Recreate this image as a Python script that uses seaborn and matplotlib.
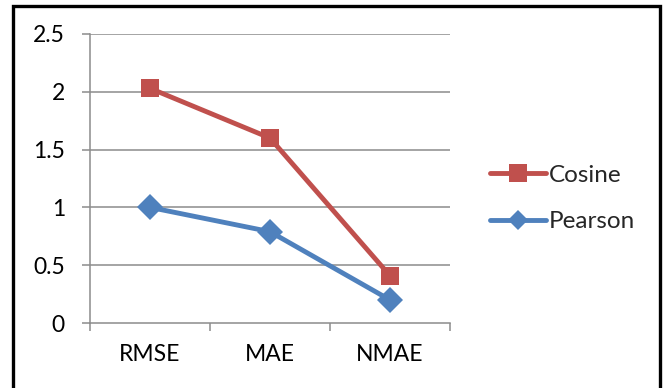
import matplotlib
matplotlib.use("Agg")
import matplotlib.pyplot as plt
from matplotlib.patches import Rectangle
import seaborn as sns
import pandas as pd

# Error metrics for the two similarity measures
metrics = ["RMSE", "MAE", "NMAE"]
cosine = [2.03, 1.6, 0.41]
pearson = [1.0, 0.79, 0.2]
series_names = ["Cosine", "Pearson"]
y_ticks = [0, 0.5, 1, 1.5, 2, 2.5]
y_tick_labels = ["0", "0.5", "1", "1.5", "2", "2.5"]

df = pd.DataFrame({
    "metric": metrics * 2,
    "value": cosine + pearson,
    "measure": [series_names[0]] * 3 + [series_names[1]] * 3,
})

sns.set_theme(style="white")
plt.rcParams["font.family"] = ["Lato", "DejaVu Sans"]

red = "#C0504D"
blue = "#4F81BD"
grid_c = "#8C8C8C"

fig = plt.figure(figsize=(6.69, 3.88), dpi=100)
ax = fig.add_axes([0.1345, 0.1675, 0.538, 0.745])

sns.lineplot(
    data=df, x="metric", y="value", hue="measure", style="measure",
    palette={"Cosine": red, "Pearson": blue},
    markers={"Cosine": "s", "Pearson": "D"}, dashes=False,
    linewidth=3.5, markersize=13, markeredgewidth=0,
    sort=False, ax=ax, legend=False,
)

ax.set_xlim(-0.5, 2.5)
ax.set_ylim(0, 2.5)
ax.set_xlabel("")
ax.set_ylabel("")

ax.set_yticks(y_ticks)
ax.set_yticklabels(y_tick_labels)
ax.set_xticks(range(len(metrics)))
ax.set_xticklabels(metrics)
ax.set_xticks([-0.5, 0.5, 1.5, 2.5], minor=True)

for y in y_ticks[1:]:
    ax.axhline(y, color=grid_c, linewidth=1.1, zorder=0)

for side in ["top", "right"]:
    ax.spines[side].set_visible(False)
for side in ["left", "bottom"]:
    ax.spines[side].set_color(grid_c)
    ax.spines[side].set_linewidth(1.1)

ax.tick_params(axis="y", which="major", direction="out", length=6, width=1.1,
               color=grid_c, pad=12, labelsize=16.5, labelcolor="black", left=True)
ax.tick_params(axis="x", which="major", length=0, pad=15, labelsize=16.5,
               labelcolor="black")
ax.tick_params(axis="x", which="minor", direction="out", length=6, width=1.1,
               color=grid_c, bottom=True)

# Legend entries on the right
handles = [
    plt.Line2D([], [], color=red, marker="s", linewidth=3.5, markersize=13,
               markeredgewidth=0),
    plt.Line2D([], [], color=blue, marker="D", linewidth=3.5, markersize=10.5,
               markeredgewidth=0),
]
fig.legend(handles, series_names, loc="center left",
           bbox_to_anchor=(0.718, 0.489), frameon=False, fontsize=17.5,
           handlelength=2.3, handletextpad=0.12, labelspacing=1.05,
           borderaxespad=0)

# Outer frame
fig.patches.append(Rectangle((0.02, -0.01), 0.966, 0.994, transform=fig.transFigure,
                             fill=False, edgecolor="black", linewidth=2.4))

fig.savefig("out.png", dpi=100)
